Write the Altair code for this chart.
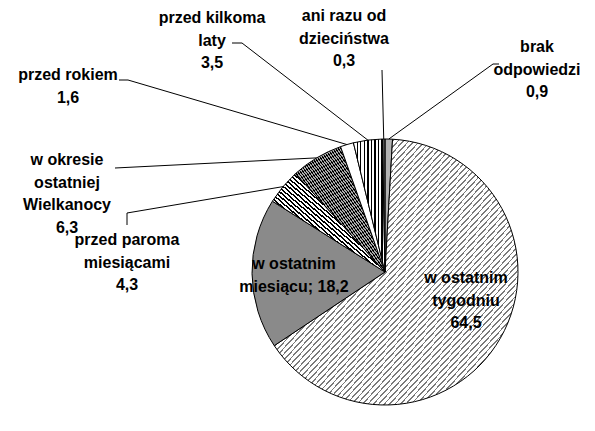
import math
import altair as alt
import pandas as pd

# ---------------- data ----------------
categories = [
    "brak odpowiedzi",
    "w ostatnim tygodniu",
    "w ostatnim miesiącu",
    "przed paroma miesiącami",
    "w okresie ostatniej Wielkanocy",
    "przed rokiem",
    "przed kilkoma laty",
    "ani razu od dzieciństwa",
]
values = [0.9, 64.5, 18.2, 4.3, 6.3, 1.6, 3.5, 0.3]
label_lines = [
    ["brak", "odpowiedzi", "0,9"],
    ["w ostatnim", "tygodniu", "64,5"],
    ["w ostatnim", "miesiącu; 18,2"],
    ["przed paroma", "miesiącami", "4,3"],
    ["w okresie", "ostatniej", "Wielkanocy", "6,3"],
    ["przed rokiem", "1,6"],
    ["przed kilkoma", "laty", "3,5"],
    ["ani razu od", "dzieciństwa", "0,3"],
]

# ---------------- layout (page pixel coordinates) ----------------
W, H = 579, 415
CX, CY, R = 385, 272, 133
FONT = "Liberation Sans"
FS = 16
LH = 22.5
label_x = [537, 466, 294, 127, 67, 68, 212, 344]
label_y = [47, 278, 264, 240, 160, 75, 18, 16]
# leader line start points (before reaching the slice edge); None = no leader
leader_pts = [
    [(499, 64), (493, 64)],
    None,
    None,
    [(127, 225), (127, 213)],
    [(115, 168)],
    [(119, 80), (128, 80)],
    [(232, 43), (242, 43)],
    [(382, 70)],
]


def stripes(n, dark, light, frac, x1, y1, x2, y2):
    stops = []
    for i in range(n):
        a, b, c = i / n, (i + frac) / n, (i + 1) / n
        stops += [
            {"color": dark, "offset": round(a, 5)},
            {"color": dark, "offset": round(b, 5)},
            {"color": light, "offset": round(b, 5)},
            {"color": light, "offset": round(c, 5)},
        ]
    return {"gradient": "linear", "x1": x1, "y1": y1, "x2": x2, "y2": y2, "stops": stops}


fills = [
    "#b4b4b4",
    stripes(90, "#7a7a7a", "#ffffff", 0.3, 0, 0, 1, 1),
    "#8a8a8a",
    stripes(46, "#000000", "#ffffff", 0.45, 0, 1, 1, 0),
    stripes(66, "#000000", "#a8a8a8", 0.5, 0, 1, 1, 0),
    "#ffffff",
    stripes(9, "#000000", "#ffffff", 0.3, 0, 0, 1, 0),
    "#555555",
]

df = pd.DataFrame({"cat": categories, "value": values, "idx": list(range(len(values)))})

xs = alt.Scale(domain=[8, 8 + W], range=[0, W], nice=False, zero=False)
ys = alt.Scale(domain=[8, 8 + H], range=[0, H], nice=False, zero=False)

base = (
    alt.Chart(df)
    .transform_window(cum="sum(value)", sort=[alt.SortField("idx")])
    .transform_joinaggregate(total="sum(value)")
    .transform_calculate(
        t1="datum.cum / datum.total * 2 * PI",
        t0="(datum.cum - datum.value) / datum.total * 2 * PI",
    )
)

layers = []
for c, f in zip(categories, fills):
    layers.append(
        base.transform_filter(alt.datum.cat == c)
        .mark_arc(fill=f, stroke="black", strokeWidth=1, outerRadius=R)
        .encode(
            theta=alt.Theta("t0:Q", scale=None),
            theta2="t1:Q",
            x=alt.value(CX - 8),
            y=alt.value(CY - 8),
        )
    )

# leader lines: from label to the slice edge at the slice's middle angle
total = sum(values)
rows = []
cum = 0.0
for i, (c, v) in enumerate(zip(categories, values)):
    mid = (cum + v / 2) / total * 2 * math.pi
    cum += v
    pts = leader_pts[i]
    if not pts:
        continue
    ex = CX + R * math.sin(mid)
    ey = CY - R * math.cos(mid)
    seq = list(pts) + [(ex, ey)]
    for k, (px, py) in enumerate(seq):
        rows.append({"cat": c, "k": k, "px": px, "py": py})
lead_df = pd.DataFrame(rows)
leaders = (
    alt.Chart(lead_df)
    .mark_line(color="black", strokeWidth=1)
    .encode(
        x=alt.X("px:Q", scale=xs, axis=None),
        y=alt.Y("py:Q", scale=ys, axis=None),
        detail="cat:N",
        order="k:Q",
    )
)

# labels, one row per text line
trows = []
for i, lines in enumerate(label_lines):
    for j, t in enumerate(lines):
        trows.append({"t": t, "tx": label_x[i], "ty": label_y[i] + j * LH})
text_df = pd.DataFrame(trows)
labels = (
    alt.Chart(text_df)
    .mark_text(font=FONT, fontSize=FS, fontWeight="bold", color="black",
               align="center", baseline="middle")
    .encode(
        x=alt.X("tx:Q", scale=xs, axis=None),
        y=alt.Y("ty:Q", scale=ys, axis=None),
        text="t:N",
    )
)

chart = (
    alt.layer(*layers, leaders, labels)
    .properties(width=W, height=H, padding=0, autosize="none", background="white")
    .configure_view(stroke=None)
)

chart.save("out.html", embed_options={"renderer": "svg", "actions": False})
